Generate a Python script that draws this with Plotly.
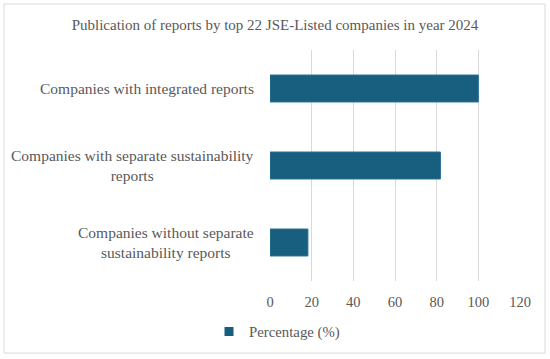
import plotly.graph_objects as go

categories = [
    "Companies with integrated reports",
    "Companies with separate sustainability<br>reports",
    "Companies without separate<br>sustainability reports",
]
values = [100, 81.8, 18.2]
series_name = "Percentage (%)"
title_text = "Publication of reports by top 22 JSE-Listed companies in year 2024"
x_ticks = [0, 20, 40, 60, 80, 100, 120]

FONT = "Liberation Serif"
TXT = "#595959"
BAR = "#175E7F"

fig = go.Figure()
fig.add_trace(go.Bar(
    y=categories, x=values, orientation="h", name=series_name,
    marker=dict(color=BAR, line=dict(color="#2B7193", width=1)),
    showlegend=False,
))
# legend entry with a small square symbol
fig.add_trace(go.Scatter(
    x=[None], y=[None], mode="markers", name=series_name,
    marker=dict(symbol="square", size=9, color=BAR),
    showlegend=True,
))

for c in categories:
    fig.add_annotation(
        x=0, xref="paper", y=c, yref="y", text=c, showarrow=False,
        xanchor="right", xshift=-14, align="center",
        font=dict(family=FONT, size=15.5, color=TXT),
    )

fig.add_shape(type="rect", xref="paper", yref="paper",
              x0=-1.064, x1=1.1, y0=-0.312, y1=1.199,
              line=dict(color="#D9D9D9", width=1), fillcolor="rgba(0,0,0,0)",
              layer="below")

fig.update_layout(
    width=550, height=359,
    margin=dict(l=270, r=30, t=50, b=78, autoexpand=False),
    paper_bgcolor="white", plot_bgcolor="white",
    bargap=0.65,
    title=dict(text=title_text, x=0.5, xref="container", xanchor="center",
               y=1 - 25 / 359, yref="container", yanchor="middle",
               font=dict(family=FONT, size=15, color=TXT)),
    xaxis=dict(range=[0, 120], tickvals=x_ticks, showgrid=True,
               gridcolor="#D9D9D9", gridwidth=1, zeroline=False,
               showline=False, ticks="", ticklabelstandoff=10,
               automargin=False,
               tickfont=dict(family=FONT, size=14.5, color=TXT),
               fixedrange=True),
    yaxis=dict(categoryorder="array", categoryarray=categories,
               autorange="reversed", showticklabels=False, showgrid=False,
               zeroline=False, showline=False, ticks="", fixedrange=True,
               automargin=False),
    legend=dict(orientation="h", xref="container", x=0.5 + 2 / 550,
                xanchor="center",
                yref="container", y=(359 - 332) / 359, yanchor="middle",
                itemwidth=30, bgcolor="rgba(0,0,0,0)",
                font=dict(family=FONT, size=14.8, color=TXT)),
)

fig.write_html("out.html", config={"displayModeBar": False},
               post_script="document.body.style.margin='0';")
